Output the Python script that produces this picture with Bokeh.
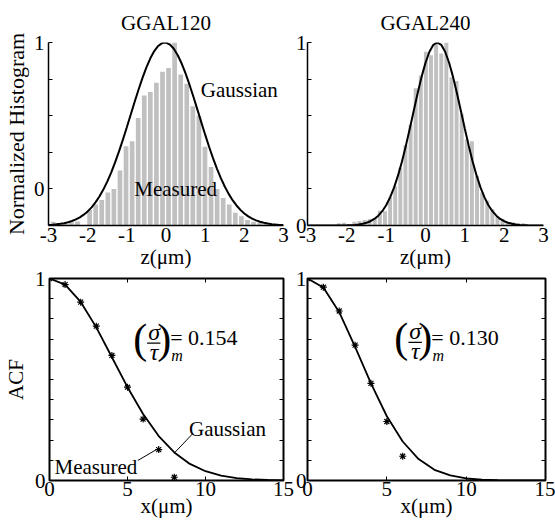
from bokeh.plotting import figure
from bokeh.models import Range1d, FixedTicker, LinearAxis, Label
from bokeh.layouts import row, column
from bokeh.embed import file_html
from bokeh.resources import INLINE

FONT = "Liberation Serif"
BAR = "#c0c0c0"
FS = "21px"

# ---------------- data ----------------
titles = ["GGAL120", "GGAL240"]
sigma_tau = ["0.154", "0.130"]

z_centers_120 = [-2.88, -2.725, -2.57, -2.415, -2.26, -2.105, -1.95, -1.795, -1.64, -1.485,
                 -1.33, -1.175, -1.02, -0.865, -0.71, -0.555, -0.4, -0.245, -0.09, 0.065,
                 0.22, 0.375, 0.53, 0.685, 0.84, 0.995, 1.15, 1.305, 1.46, 1.615,
                 1.77, 1.925, 2.08, 2.235, 2.39, 2.545, 2.7, 2.855]
hist_120 = [0.02, 0.012, 0.01, 0.018, 0.022, 0.0, 0.085, 0.115, 0.14, 0.18,
            0.2, 0.30, 0.433, 0.46, 0.587, 0.71, 0.73, 0.78, 0.84, 0.86,
            1.0, 0.825, 0.774, 0.652, 0.60, 0.43, 0.32, 0.20, 0.15, 0.115,
            0.07, 0.05, 0.03, 0.02, 0.015, 0.01, 0.0, 0.0]

z_centers_240 = [-2.2, -2.07, -1.94, -1.81, -1.68, -1.55, -1.42, -1.29, -1.16, -1.03,
                 -0.9, -0.77, -0.64, -0.51, -0.38, -0.25, -0.12, 0.01, 0.14, 0.27,
                 0.4, 0.53, 0.66, 0.79, 0.92, 1.05, 1.18, 1.31, 1.44, 1.57,
                 1.7, 1.83, 1.96, 2.09, 2.22, 2.35, 2.48, 2.61]
hist_240 = [0.012, 0.015, 0.006, 0.02, 0.025, 0.03, 0.035, 0.04, 0.08, 0.078,
            0.155, 0.215, 0.315, 0.44, 0.55, 0.75, 0.82, 0.95, 0.93, 1.0,
            0.94, 1.0, 0.81, 0.79, 0.61, 0.47, 0.46, 0.27, 0.18, 0.137,
            0.09, 0.046, 0.036, 0.018, 0.018, 0.012, 0.012, 0.0]

gauss_z = [-3.0, -2.9, -2.8, -2.7, -2.6, -2.5, -2.4, -2.3, -2.2, -2.1,
           -2.0, -1.9, -1.8, -1.7, -1.6, -1.5, -1.4, -1.3, -1.2, -1.1,
           -1.0, -0.9, -0.8, -0.7, -0.6, -0.5, -0.4, -0.3, -0.2, -0.1,
           0.0, 0.1, 0.2, 0.3, 0.4, 0.5, 0.6, 0.7, 0.8, 0.9,
           1.0, 1.1, 1.2, 1.3, 1.4, 1.5, 1.6, 1.7, 1.8, 1.9,
           2.0, 2.1, 2.2, 2.3, 2.4, 2.5, 2.6, 2.7, 2.8, 2.9, 3.0]
gauss_120 = [0.0030, 0.0043, 0.0063, 0.0090, 0.0128, 0.0178, 0.0245, 0.0333, 0.0446, 0.0590,
             0.0771, 0.0993, 0.1263, 0.1585, 0.1963, 0.2400, 0.2894, 0.3447, 0.4049, 0.4695,
             0.5372, 0.6065, 0.6760, 0.7434, 0.8069, 0.8642, 0.9136, 0.9530, 0.9811, 0.9968,
             0.9994, 0.9889, 0.9657, 0.9306, 0.8850, 0.8307, 0.7694, 0.7033, 0.6345, 0.5648,
             0.4963, 0.4302, 0.3681, 0.3109, 0.2591, 0.2130, 0.1729, 0.1385, 0.1095, 0.0854,
             0.0657, 0.0500, 0.0375, 0.0277, 0.0202, 0.0146, 0.0104, 0.0073, 0.0050, 0.0034, 0.0023]
gauss_240 = [0.0, 0.0, 0.0, 0.0, 0.0, 0.0, 0.0001, 0.0002, 0.0003, 0.0006,
             0.0010, 0.0018, 0.0032, 0.0055, 0.0091, 0.0148, 0.0233, 0.0358, 0.0536, 0.0782,
             0.1110, 0.1537, 0.2073, 0.2723, 0.3487, 0.4350, 0.5287, 0.6261, 0.7224, 0.8121,
             0.8895, 0.9493, 0.9871, 1.0, 0.9871, 0.9493, 0.8895, 0.8121, 0.7224, 0.6261,
             0.5287, 0.4350, 0.3487, 0.2723, 0.2073, 0.1537, 0.1110, 0.0782, 0.0536, 0.0358,
             0.0233, 0.0148, 0.0091, 0.0055, 0.0032, 0.0018, 0.0010, 0.0006, 0.0003, 0.0002, 0.0001]

acf_x = [0, 1, 2, 3, 4, 5, 6, 7, 8, 9, 10, 11, 12, 13, 14, 15]
acf_gauss_120 = [1.0, 0.970, 0.884, 0.758, 0.610, 0.462, 0.329, 0.220, 0.139, 0.082,
                 0.046, 0.024, 0.012, 0.0055, 0.0024, 0.001]
acf_gauss_240 = [1.0, 0.955, 0.833, 0.662, 0.481, 0.318, 0.193, 0.106, 0.053, 0.025,
                 0.010, 0.004, 0.0014, 0.0004, 0.0001, 0.0]
meas_x_120 = [0, 1, 2, 3, 4, 5, 6, 7, 8]
meas_120 = [1.0, 0.970, 0.883, 0.764, 0.619, 0.462, 0.304, 0.153, 0.016]
meas_x_240 = [0, 1, 2, 3, 4, 5, 6]
meas_240 = [1.0, 0.957, 0.839, 0.670, 0.481, 0.292, 0.120]

z_ticks = [-3, -2, -1, 0, 1, 2, 3]
hist_y_ticks = [0, 0.2, 0.4, 0.6, 0.8, 1.0]
x_ticks = [0, 5, 10, 15]
acf_y_ticks = [0, 0.1, 0.2, 0.3, 0.4, 0.5, 0.6, 0.7, 0.8, 0.9, 1.0]

# ---------------- helpers ----------------
def txt(p, x, y, text, size=FS, style="normal", align="left", baseline="alphabetic", dx=0, dy=0):
    p.add_layout(Label(x=x, y=y, text=text, x_offset=dx, y_offset=dy,
                       text_font=FONT, text_font_size=size, text_font_style=style,
                       text_align=align, text_baseline=baseline, text_color="black"))


def style_common(p):
    p.grid.visible = False
    p.background_fill_color = "white"
    for ax in p.axis:
        ax.major_label_text_font = FONT
        ax.major_label_text_font_size = FS
        ax.major_label_text_color = "black"
        ax.axis_label_text_font = FONT
        ax.axis_label_text_font_size = FS
        ax.axis_label_text_font_style = "normal"
        ax.axis_label_text_color = "black"
        ax.minor_tick_line_color = None
        ax.major_tick_line_color = "black"


TOP_H = 290
BOT_H = 265


def top_panel(idx, width, bl, br, centers, heights, bar_w, gy, zero_label_at):
    p = figure(width=width, height=TOP_H, x_range=Range1d(-3, 3), y_range=Range1d(0, 1),
               output_backend="svg", toolbar_location=None, title=titles[idx],
               min_border_left=bl, min_border_right=br, min_border_top=42,
               min_border_bottom=TOP_H - 225)
    p.outline_line_color = None
    p.border_fill_color = None
    p.title.text_font = FONT
    p.title.text_font_size = FS
    p.title.text_font_style = "normal"
    p.title.text_color = "black"
    p.title.align = "center"
    p.title.standoff = 16

    p.vbar(x=centers, top=heights, width=bar_w, bottom=0, fill_color=BAR, line_color=None)
    p.line(gauss_z, gy, line_color="black", line_width=2)

    style_common(p)
    xa = p.xaxis[0]
    xa.ticker = FixedTicker(ticks=z_ticks)
    xa.major_label_overrides = {t: str(t) for t in z_ticks}
    xa.major_tick_in = 0
    xa.major_tick_out = 0
    xa.major_label_standoff = 2
    xa.axis_line_width = 1.5
    xa.axis_line_color = "black"
    xa.axis_label = "z(μm)"
    xa.axis_label_standoff = 0

    ya = p.yaxis[0]
    ya.ticker = FixedTicker(ticks=hist_y_ticks)
    ov = {t: "" for t in hist_y_ticks}
    ov[1.0] = "1"
    ov[zero_label_at] = "0"
    ya.major_label_overrides = ov
    ya.major_tick_in = 4
    ya.major_tick_out = 0
    ya.major_label_standoff = 4 if idx == 0 else 1
    ya.axis_line_width = 1.5
    ya.axis_line_color = "black"
    return p


def bottom_panel(idx, width, bl, br, mx, my, gy, anchor):
    p = figure(width=width, height=BOT_H, x_range=Range1d(0, 15), y_range=Range1d(0, 1),
               output_backend="svg", toolbar_location=None,
               min_border_left=bl, min_border_right=br, min_border_top=14,
               min_border_bottom=49)
    p.outline_line_color = "black"
    p.outline_line_width = 2
    p.border_fill_color = None

    p.line(acf_x, gy, line_color="black", line_width=1.8)
    p.scatter(mx, my, marker="asterisk", size=7, line_color="black", line_width=1.2)

    p.add_layout(LinearAxis(), "right")
    p.add_layout(LinearAxis(), "above")
    style_common(p)
    for ax in p.xaxis:
        ax.ticker = FixedTicker(ticks=x_ticks)
        ax.major_tick_in = 4
        ax.major_tick_out = 0
        ax.axis_line_color = None
        ax.major_label_standoff = 1
    for ax in p.yaxis:
        ax.ticker = FixedTicker(ticks=acf_y_ticks)
        ax.major_tick_in = 4
        ax.major_tick_out = 0
        ax.axis_line_color = None
        ov = {t: "" for t in acf_y_ticks}
        ov[0] = "0"
        ov[1.0] = "1"
        ax.major_label_overrides = ov
        ax.major_label_standoff = 4 if idx == 0 else 1
    p.above[0].major_label_overrides = {t: "" for t in x_ticks}
    p.above[0].major_label_standoff = 0
    p.right[0].major_label_overrides = {t: "" for t in acf_y_ticks}
    p.right[0].major_label_standoff = 0
    p.below[0].axis_label = "x(μm)"
    p.below[0].axis_label_standoff = -5

    # (sigma/tau)_m = value
    ax0, ay0 = anchor
    txt(p, ax0, ay0, "(", size="42px", align="center", baseline="middle", dy=3)
    txt(p, ax0, ay0, "σ", size="24px", style="italic", align="center", baseline="middle", dx=14, dy=10)
    txt(p, ax0, ay0, "τ", size="24px", style="italic", align="center", baseline="middle", dx=14, dy=-10)
    txt(p, ax0, ay0, ")", size="42px", align="center", baseline="middle", dx=24, dy=3)
    txt(p, ax0, ay0, "m", size="16px", style="italic", align="center", baseline="middle", dx=37, dy=-14)
    txt(p, ax0, ay0, "= " + sigma_tau[idx], size="22px", align="left", baseline="middle", dx=30, dy=4)
    p.segment(x0=[ax0 + 0.45], y0=[ay0 - 0.006], x1=[ax0 + 1.3], y1=[ay0 - 0.006],
              line_color="black", line_width=1.3)
    return p


tl = top_panel(0, 300, 47, 17, z_centers_120, hist_120, 0.12, gauss_120, 0.2)
tl.yaxis[0].axis_label = "Normalized Histogram"
tl.yaxis[0].axis_label_text_font_size = "22px"
tl.yaxis[0].axis_label_standoff = 2
txt(tl, 0.89, 0.738, "Gaussian")
txt(tl, -0.81, 0.197, "Measured")

tr = top_panel(1, 263, 12, 12, z_centers_240, hist_240, 0.10, gauss_240, 0)
tr.styles = {"margin-left": "-8px"}

bl = bottom_panel(0, 300, 48, 17, meas_x_120, meas_120, acf_gauss_120, (5.81, 0.686))
bl.yaxis[0].axis_label = "ACF"
bl.yaxis[0].axis_label_standoff = 4
txt(bl, 8.94, 0.257, "Gaussian")
txt(bl, 0.32, 0.069, "Measured")
bl.segment(x0=[9.17, 5.66], y0=[0.231, 0.099], x1=[8.0, 6.94], y1=[0.136, 0.157],
           line_color="black", line_width=1)

br = bottom_panel(1, 263, 12, 10, meas_x_240, meas_240, acf_gauss_240, (5.91, 0.69))
br.styles = {"margin-left": "-8px"}

top_row = row(tl, tr)
bottom_row = row(bl, br)
bottom_row.styles = {"margin-top": "-26px"}
layout = column(top_row, bottom_row)
open("out.html", "w").write(file_html(layout, INLINE))
